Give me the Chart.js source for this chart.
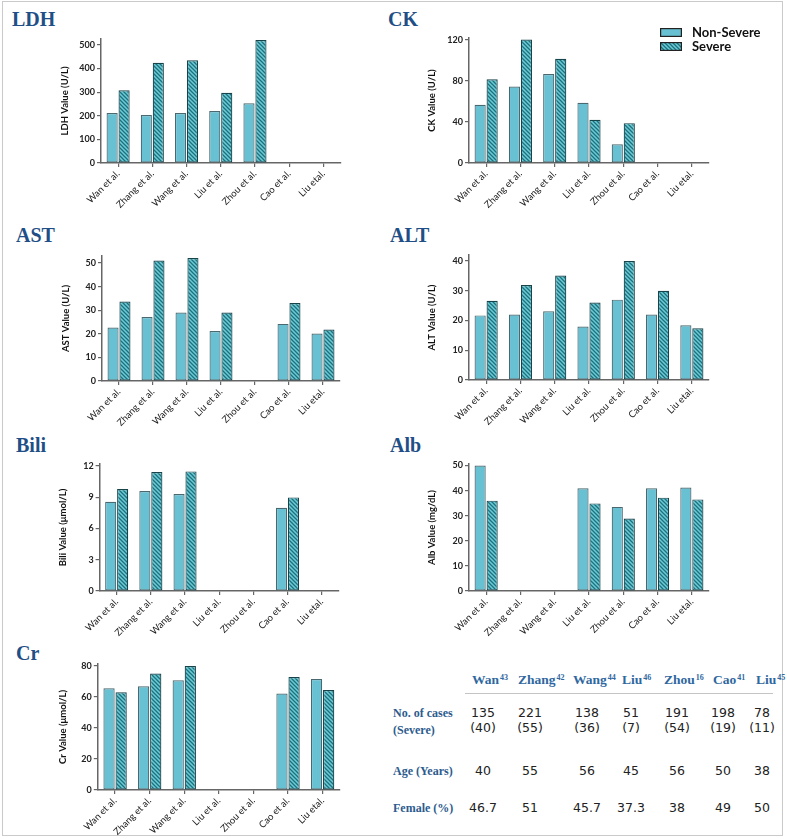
<!DOCTYPE html>
<html>
<head>
<meta charset="utf-8">
<script src="https://cdn.jsdelivr.net/npm/chart.js@4.4.0/dist/chart.umd.min.js"></script>
<style>
  body { margin: 0; background: #fff; }
  #page { position: relative; width: 787px; height: 839px; overflow: hidden; font-family: Lato, sans-serif; }
  .frame { position: absolute; left: 2px; top: 1px; width: 779px; height: 833px; border: 1px solid #cacaca; }
  .ptitle { position: absolute; font: bold 20px "Liberation Serif", serif; line-height: 20px; color: #1f4f86; }
  canvas.panel { position: absolute; }
  .leg { position: absolute; font: bold 13px Lato, sans-serif; color: #111; line-height: 14px; }
  .th { position: absolute; font: bold 13.5px "Liberation Serif", serif; line-height: 14px; color: #2f67a0; white-space: nowrap; }
  .th sup { font-size: 8px; position: relative; top: -2px; vertical-align: top; margin-left: 1px; }
  .rl { position: absolute; font: bold 12px "Liberation Serif", serif; line-height: 14px; color: #2c5b8e; white-space: nowrap; }
  .td { position: absolute; width: 50px; margin-left: -25px; text-align: center; font: 12.5px "DejaVu Sans", sans-serif; line-height: 15px; color: #222; }
  .rule { position: absolute; left: 465px; top: 693px; width: 308px; height: 1px; background: #c4c4c4; }
</style>
</head>
<body>
<div id="page">
  <div class="frame"></div>
</div>
<script>
// study labels used on every x axis
const studies = ['Wan et al.', 'Zhang et al.', 'Wang et al.', 'Liu et al.', 'Zhou et al.', 'Cao et al.', 'Liu etal.'];

// values (null = not reported)
const ldhNonSevere = [212, 203, 212, 220, 253, null, null];
const ldhSevere = [308, 424, 435, 297, 521, null, null];
const ckNonSevere = [56.8, 74.6, 86.9, 58.7, 18.2, null, null];
const ckSevere = [81.7, 120.6, 101.8, 42.2, 38.9, null, null];
const astNonSevere = [22.7, 27.1, 29.0, 21.2, null, 24.2, 20.1];
const astSevere = [33.7, 51.1, 52.1, 29.0, null, 33.1, 21.8];
const altNonSevere = [21.7, 22.0, 23.1, 18.0, 27.0, 22.0, 18.4];
const altSevere = [26.6, 31.9, 35.1, 26.0, 40.0, 30.0, 17.4];
const biliNonSevere = [8.58, 9.6, 9.31, null, null, 8.0, null];
const biliSevere = [9.79, 11.42, 11.49, null, null, 8.99, null];
const albNonSevere = [50.0, null, null, 40.9, 33.5, 40.9, 41.2];
const albSevere = [36.0, null, null, 34.9, 28.9, 37.2, 36.5];
const crNonSevere = [65.6, 66.9, 70.8, null, null, 62.2, 71.6];
const crSevere = [63.0, 75.1, 80.0, null, null, 72.9, 64.5];

// table of study characteristics
const tableStudies = ['Wan', 'Zhang', 'Wang', 'Liu', 'Zhou', 'Cao', 'Liu'];
const tableRefs = ['43', '42', '44', '46', '16', '41', '45'];
const totalCases = [135, 221, 138, 51, 191, 198, 78];
const severeCases = [40, 55, 36, 7, 54, 19, 11];
const meanAge = [40, 55, 56, 45, 56, 50, 38];
const femalePct = ['46.7', '51', '45.7', '37.3', '38', '49', '50'];
const rowLabels = ['No. of cases', '(Severe)', 'Age (Years)', 'Female (%)'];

const page = document.getElementById('page');
const nsColor = '#68c1d3';

// hatch fill for the severe bars
function makeHatch() {
  const c = document.createElement('canvas');
  c.width = 4; c.height = 4;
  const g = c.getContext('2d');
  g.fillStyle = '#6ccbd8';
  g.fillRect(0, 0, 4, 4);
  g.strokeStyle = '#1d717c';
  g.lineWidth = 1.3;
  g.beginPath();
  g.moveTo(0, 0); g.lineTo(4, 4);
  g.moveTo(-1, 3); g.lineTo(1, 5);
  g.moveTo(3, -1); g.lineTo(5, 1);
  g.stroke();
  return g.createPattern(c, 'repeat');
}
const hatch = makeHatch();

// panel layout: plot box [left, top, right, bottom], title position, y-title center
const panels = [
  { title: 'LDH', tx: 12, ty: 9, axis: 'LDH Value (U/L)', ns: ldhNonSevere, sv: ldhSevere, max: 525, step: 100, plot: [101, 39, 340.5, 163], tcx: 65 },
  { title: 'CK', tx: 388, ty: 9, axis: 'CK Value (U/L)', ns: ckNonSevere, sv: ckSevere, max: 122, step: 40, plot: [469, 38, 709, 163], tcx: 432 },
  { title: 'AST', tx: 16, ty: 225, axis: 'AST Value (U/L)', ns: astNonSevere, sv: astSevere, max: 53, step: 10, plot: [102, 256, 340, 381], tcx: 66 },
  { title: 'ALT', tx: 390, ty: 225, axis: 'ALT Value (U/L)', ns: altNonSevere, sv: altSevere, max: 42, step: 10, plot: [469, 255, 709, 380], tcx: 432 },
  { title: 'Bili', tx: 16, ty: 435, axis: 'Bili Value (\u03bcmol/L)', ns: biliNonSevere, sv: biliSevere, max: 12.2, step: 3, plot: [99.6, 464, 338.8, 591], tcx: 63 },
  { title: 'Alb', tx: 390, ty: 435, axis: 'Alb Value (mg/dL)', ns: albNonSevere, sv: albSevere, max: 50.6, step: 10, plot: [469, 464, 709, 591], tcx: 432 },
  { title: 'Cr', tx: 16, ty: 643, axis: 'Cr Value (\u03bcmol/L)', ns: crNonSevere, sv: crSevere, max: 81.3, step: 20, plot: [97.8, 664, 339.9, 790], tcx: 63 }
];

function addDiv(cls, html, left, top) {
  const d = document.createElement('div');
  d.className = cls;
  d.innerHTML = html;
  d.style.left = left + 'px';
  d.style.top = top + 'px';
  page.appendChild(d);
  return d;
}

function makePanel(p) {
  const [L, T, R, B] = p.plot;
  const padTop = 8, xh = 52;
  const cl = Math.round(p.tcx - 9.7);
  const yw = L - cl;
  const w = Math.ceil(yw + (R - L) + 12);
  const padRight = w - yw - (R - L);
  const h = padTop + (B - T) + xh;

  addDiv('ptitle', p.title, p.tx, p.ty);

  const cv = document.createElement('canvas');
  cv.className = 'panel';
  cv.width = w; cv.height = h;
  cv.style.left = cl + 'px';
  cv.style.top = (T - padTop) + 'px';
  cv.style.width = w + 'px';
  cv.style.height = h + 'px';
  page.appendChild(cv);

  const axisColor = '#666';
  new Chart(cv, {
    type: 'bar',
    data: {
      labels: studies,
      datasets: [
        { label: 'Non-Severe', data: p.ns, backgroundColor: nsColor, borderColor: '#4a6870', borderWidth: 1.2, borderSkipped: false },
        { label: 'Severe', data: p.sv, backgroundColor: hatch, borderColor: '#17434a', borderWidth: 1.2, borderSkipped: false }
      ]
    },
    options: {
      responsive: false,
      animation: false,
      events: [],
      layout: { padding: { top: padTop, right: padRight, left: 0, bottom: 0 } },
      datasets: { bar: { categoryPercentage: 0.7, barPercentage: 0.93 } },
      plugins: { legend: { display: false }, tooltip: { enabled: false } },
      scales: {
        x: {
          offset: true,
          grid: { offset: false, drawOnChartArea: false, tickLength: 4, color: axisColor, lineWidth: 1.2 },
          border: { color: axisColor, width: 1.5 },
          ticks: { autoSkip: false, minRotation: 45, maxRotation: 45, padding: 1, color: '#222', font: { family: 'Lato', size: 9.5 } },
          afterFit: s => { s.height = xh; }
        },
        y: {
          min: 0,
          max: p.max,
          grid: { drawOnChartArea: false, tickLength: 4, color: axisColor, lineWidth: 1.2 },
          border: { color: axisColor, width: 1.5 },
          ticks: { stepSize: p.step, includeBounds: false, padding: 2, color: '#222', font: { family: 'Lato', size: 9, weight: 'bold' } },
          title: { display: true, text: p.axis, color: '#111', padding: { top: 4, bottom: 4 }, font: { family: 'Lato', size: 9.5, weight: 'bold' } },
          afterFit: s => { s.width = yw; }
        }
      }
    }
  });
}

panels.forEach(makePanel);

// legend
function swatch(fill, border, left, top) {
  const c = document.createElement('canvas');
  c.width = 22; c.height = 9;
  c.style.position = 'absolute';
  c.style.left = left + 'px';
  c.style.top = top + 'px';
  const g = c.getContext('2d');
  g.fillStyle = fill;
  g.fillRect(0, 0, 22, 9);
  g.strokeStyle = border;
  g.lineWidth = 1.2;
  g.strokeRect(0.6, 0.6, 20.8, 7.8);
  page.appendChild(c);
}
swatch(nsColor, '#222', 660, 28);
swatch(hatch, '#222', 660, 42);
addDiv('leg', 'Non-Severe', 692, 25);
addDiv('leg', 'Severe', 692, 39);

// table
const headLeft = [472, 518, 573, 622, 664, 713, 756];
const colCenter = [483, 530, 587, 631, 677, 723, 762];
tableStudies.forEach((s, i) => addDiv('th', s + '<sup>' + tableRefs[i] + '</sup>', headLeft[i], 673));
const rule = document.createElement('div');
rule.className = 'rule';
page.appendChild(rule);

const rowTops = [706, 723, 764, 801];
rowLabels.forEach((t, i) => addDiv('rl', t, 393, rowTops[i]));

const dataTops = [705, 720, 763, 800];
totalCases.forEach((v, i) => addDiv('td', String(v), colCenter[i], dataTops[0]));
severeCases.forEach((v, i) => addDiv('td', '(' + v + ')', colCenter[i], dataTops[1]));
meanAge.forEach((v, i) => addDiv('td', String(v), colCenter[i], dataTops[2]));
femalePct.forEach((v, i) => addDiv('td', v, colCenter[i], dataTops[3]));
</script>
</body>
</html>
